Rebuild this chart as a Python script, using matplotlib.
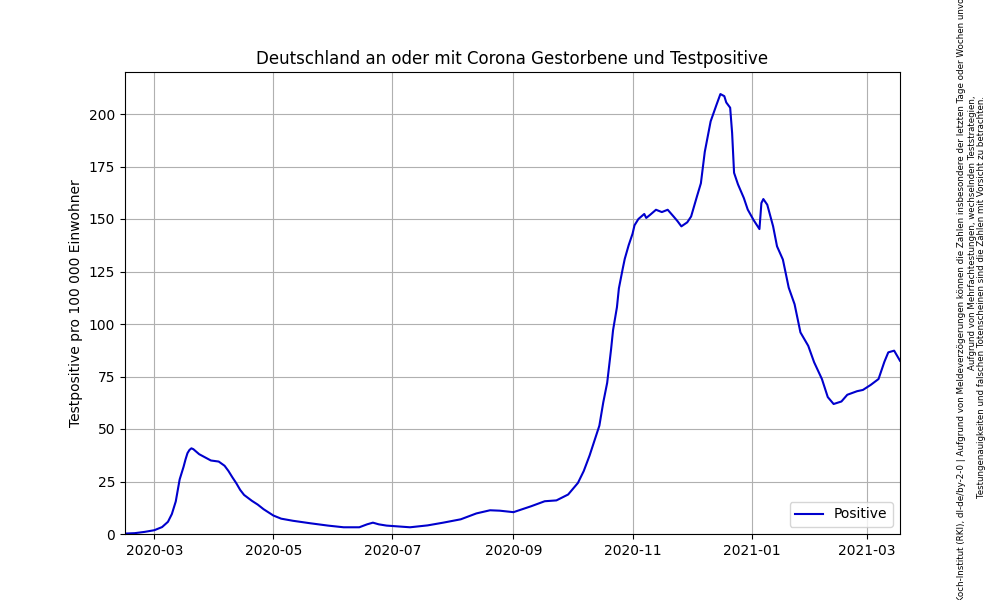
import matplotlib
matplotlib.use("Agg")
import matplotlib.pyplot as plt
import matplotlib.dates as mdates
import pandas as pd

dates = [
    "2020-02-15", "2020-02-20", "2020-02-25", "2020-03-01", "2020-03-05", "2020-03-08",
    "2020-03-10", "2020-03-12", "2020-03-14", "2020-03-16", "2020-03-17", "2020-03-18",
    "2020-03-19", "2020-03-20", "2020-03-21", "2020-03-24", "2020-03-27", "2020-03-30",
    "2020-04-03", "2020-04-06", "2020-04-08", "2020-04-10", "2020-04-12", "2020-04-14",
    "2020-04-16", "2020-04-20", "2020-04-23", "2020-04-26", "2020-05-01", "2020-05-05",
    "2020-05-11", "2020-05-20", "2020-05-29", "2020-06-06", "2020-06-14", "2020-06-18",
    "2020-06-21", "2020-06-24", "2020-06-28", "2020-07-10", "2020-07-19", "2020-07-27",
    "2020-08-05", "2020-08-13", "2020-08-20", "2020-08-25", "2020-09-01", "2020-09-10",
    "2020-09-17", "2020-09-23", "2020-09-29", "2020-10-04", "2020-10-07", "2020-10-10",
    "2020-10-15", "2020-10-17", "2020-10-19", "2020-10-20", "2020-10-21", "2020-10-22",
    "2020-10-24", "2020-10-25", "2020-10-27", "2020-10-28", "2020-10-30", "2020-11-01",
    "2020-11-02", "2020-11-04", "2020-11-07", "2020-11-08", "2020-11-10", "2020-11-13",
    "2020-11-16", "2020-11-19", "2020-11-22", "2020-11-24", "2020-11-26", "2020-11-29",
    "2020-12-01", "2020-12-04", "2020-12-06", "2020-12-08", "2020-12-11", "2020-12-14",
    "2020-12-16", "2020-12-18", "2020-12-19", "2020-12-21", "2020-12-22", "2020-12-23",
    "2020-12-25", "2020-12-28", "2020-12-30", "2021-01-02", "2021-01-05", "2021-01-06",
    "2021-01-07", "2021-01-09", "2021-01-12", "2021-01-14", "2021-01-17", "2021-01-20",
    "2021-01-23", "2021-01-26", "2021-01-30", "2021-02-02", "2021-02-06", "2021-02-09",
    "2021-02-12", "2021-02-16", "2021-02-19", "2021-02-24", "2021-02-27", "2021-03-03",
    "2021-03-07", "2021-03-10", "2021-03-12", "2021-03-15", "2021-03-18",
]
positive = [
    0.2, 0.4, 1.0, 1.8, 3.3, 5.8,
    9.5, 15.5, 26.0, 32.0, 35.5, 38.5,
    40.0, 40.8, 40.4, 38.0, 36.5, 35.0,
    34.5, 32.5, 30.0, 27.0, 24.2, 21.0,
    18.6, 15.8, 14.0, 11.8, 8.8, 7.3,
    6.3, 5.1, 4.0, 3.2, 3.2, 4.6,
    5.4, 4.6, 4.0, 3.2, 4.1, 5.4,
    7.0, 9.8, 11.3, 11.1, 10.4, 13.2,
    15.6, 16.0, 18.8, 24.3, 30.0, 37.4,
    51.6, 62.7, 72.0, 80.0, 88.0, 97.0,
    108.0, 117.0, 126.5, 131.0, 137.5, 143.0,
    147.0, 150.0, 152.4, 150.5, 152.0, 154.4,
    153.3, 154.4, 151.2, 149.0, 146.5, 148.4,
    151.2, 160.8, 167.0, 182.0, 196.5, 204.4,
    209.5, 208.5, 205.5, 203.0, 191.0, 172.0,
    166.5, 160.0, 154.5, 149.5, 145.2, 157.6,
    159.5, 156.8, 146.5, 137.0, 130.7, 117.3,
    109.4, 96.0, 89.6, 81.8, 73.8, 65.2,
    61.9, 63.1, 66.3, 68.0, 68.6, 71.0,
    73.8, 82.0, 86.5, 87.3, 82.5,
]

title = "Deutschland an oder mit Corona Gestorbene und Testpositive"
ylabel = "Testpositive pro 100 000 Einwohner"
series_label = "Positive"
note_source = ("Quelle: Robert Koch-Institut (RKI), dl-de/by-2-0 | Aufgrund von Meldeverzögerungen "
               "können die Zahlen insbesondere der letzten Tage oder Wochen unvollständig sein.")
note_caution = ("Aufgrund von Mehrfachtestungen, wechselnden Teststrategien,\n"
                "Testungenauigkeiten und falschen Totenscheinen sind die Zahlen mit Vorsicht zu betrachten.")

x = pd.to_datetime(dates)

fig = plt.figure(figsize=(10, 6), dpi=100)
ax = fig.add_subplot(111)
ax.plot(x, positive, color="mediumblue", linewidth=1.5, label=series_label)
ax.set_xlim(x[0], x[-1])
ax.set_ylim(0, 220)
ax.xaxis.set_major_locator(mdates.MonthLocator(bymonth=[1, 3, 5, 7, 9, 11]))
ax.xaxis.set_major_formatter(mdates.DateFormatter("%Y-%m"))
ax.grid(True)
ax.set_title(title)
ax.set_ylabel(ylabel)
ax.legend(loc="lower right")

fig.text(0.961, 0.497, note_source, rotation=90, ha="center", va="center",
         fontsize=6.35)
fig.text(0.977, 0.84, note_caution, rotation=90, ha="center", va="top",
         multialignment="right", fontsize=6.2, linespacing=1.0)

fig.savefig("out.png", dpi=100)
